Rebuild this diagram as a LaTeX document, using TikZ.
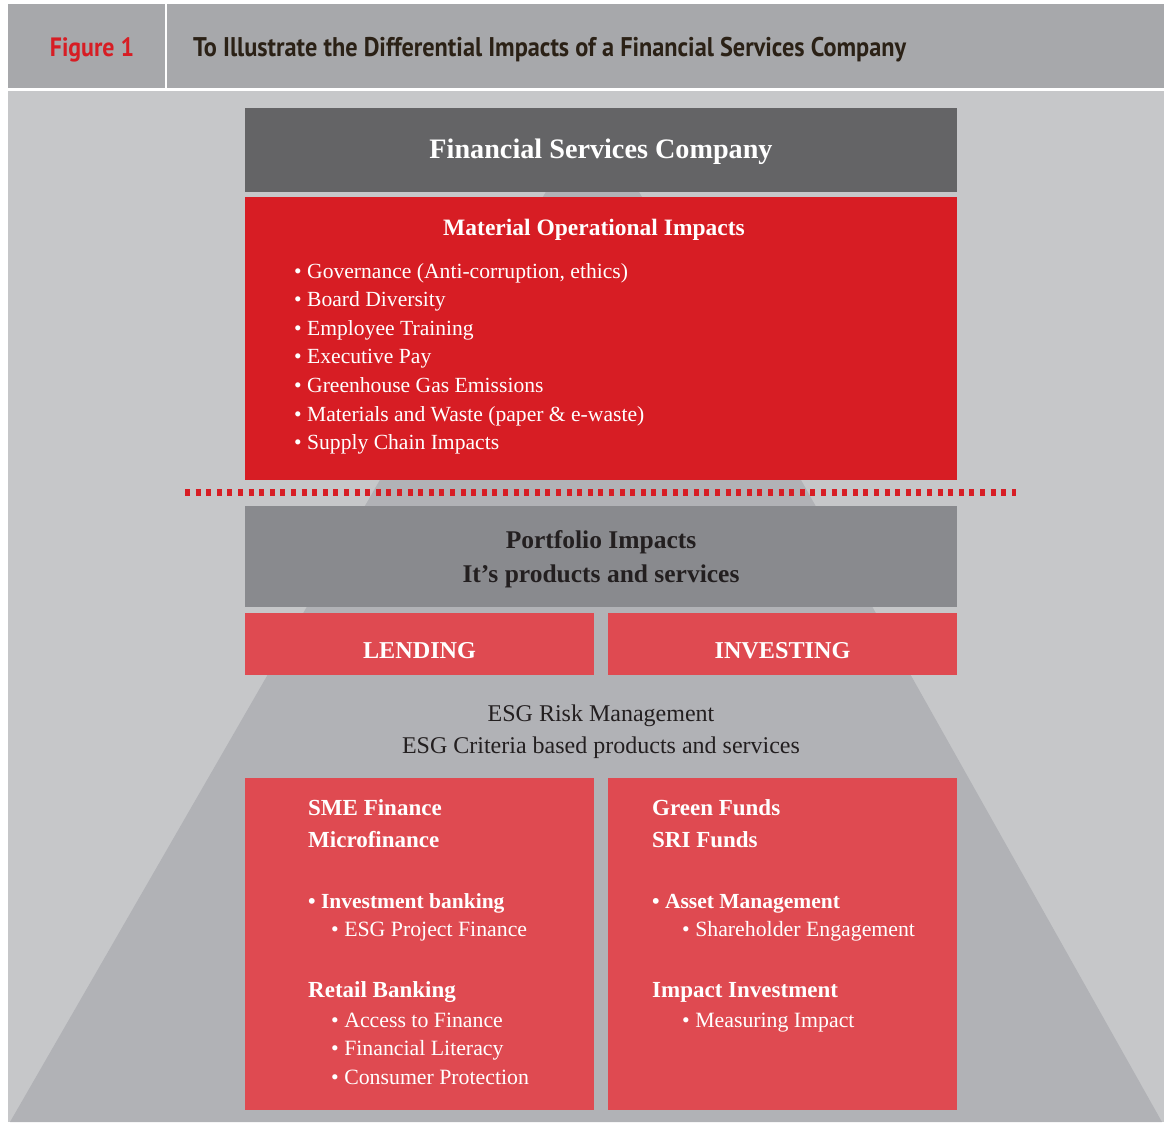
\documentclass[tikz,border=0pt]{standalone}
\usepackage{fontspec}
\setmainfont{Liberation Serif}
\newfontfamily\headfont[FakeStretch=0.9]{PT Sans}
\usetikzlibrary{positioning}

\definecolor{hdgray}{HTML}{A7A8AB}
\definecolor{bggray}{HTML}{C6C7C9}
\definecolor{pyrgray}{HTML}{B1B2B6}
\definecolor{cogray}{HTML}{646466}
\definecolor{pfgray}{HTML}{898A8E}
\definecolor{opred}{HTML}{D71D24}
\definecolor{pfred}{HTML}{DF4A51}
\definecolor{inkdark}{HTML}{231F20}
\definecolor{hdink}{HTML}{2B2116}

\tikzset{
  box/.style={rectangle, inner sep=0pt, outer sep=0pt, anchor=north west},
  lbl/.style={anchor=base west, inner sep=0pt},
  ctr/.style={anchor=base, inner sep=0pt},
  wbold/.style={lbl, text=white, font=\fontsize{23}{27}\selectfont\bfseries},
  wsub/.style={lbl, text=white, font=\fontsize{21.5}{25}\selectfont\bfseries},
  wreg/.style={lbl, text=white, font=\fontsize{21.8}{25}\selectfont},
}

\begin{document}
\begin{tikzpicture}[x=1pt, y=-1pt]
  \useasboundingbox (0,0) rectangle (1164,1122);
  \fill[white] (0,0) rectangle (1164,1122);

  % header band
  \node[box, fill=hdgray, minimum width=1156pt, minimum height=85pt] (hdbar) at (8,4) {};
  \fill[bggray] (8,91) rectangle (1164,1122);
  \draw[white, line width=2pt] (hdbar.south west) -- (hdbar.south east);
  \draw[white, line width=2pt] (166,4) -- (166,89);
  \node[ctr, text=opred, font=\headfont\fontsize{26.5}{30}\selectfont\bfseries] (hdnum) at (92,56) {Figure 1};
  \node[lbl, text=hdink, font=\headfont\fontsize{27}{30}\selectfont\bfseries] (hdtitle) at (193,56)
    {To Illustrate the Differential Impacts of a Financial Services Company};

  % pyramid behind the boxes
  \fill[pyrgray] (10,1122) -- (593,110) -- (1162,1122) -- cycle;

  % company and operational impacts
  \node[box, fill=cogray, minimum width=712pt, minimum height=84pt] (company) at (245,108) {};
  \node[ctr, text=white, font=\fontsize{28.2}{32}\selectfont\bfseries] (cotxt) at (601,158) {Financial Services Company};

  \node[box, fill=opred, minimum width=712pt, minimum height=283pt] (opbox) at (245,197) {};
  \node[ctr, text=white, font=\fontsize{23.5}{27}\selectfont\bfseries] (optitle) at (594,235) {Material Operational Impacts};
  \foreach \t [count=\i from 0] in {{Governance (Anti-corruption, ethics)}, Board Diversity, Employee Training,
      Executive Pay, Greenhouse Gas Emissions, {Materials and Waste (paper \& e-waste)}, Supply Chain Impacts}
    \node[lbl, text=white, font=\fontsize{21.6}{25}\selectfont] (op\i) at (294,278+28.6*\i) {\textbullet\ \t};

  % dashed divider
  \coordinate (dashL) at (185,492);
  \coordinate (dashR) at (1016,492);
  \draw[opred, line width=7pt, dash pattern=on 5pt off 5.6pt] (dashL) -- (dashR);

  % portfolio impacts
  \node[box, fill=pfgray, minimum width=712pt, minimum height=101pt] (pfbox) at (245,506) {};
  \node[ctr, text=inkdark, font=\fontsize{25.5}{29}\selectfont\bfseries] (pftxt1) at (601,548) {Portfolio Impacts};
  \node[ctr, text=inkdark, font=\fontsize{25.5}{29}\selectfont\bfseries] (pftxt2) at (601,582) {It’s products and services};

  \node[box, fill=pfred, minimum width=349pt, minimum height=62pt] (lendbox) at (245,613) {};
  \node[box, fill=pfred, minimum width=349pt, minimum height=62pt] (investbox) at (608,613) {};
  \node[ctr, text=white, font=\fontsize{24.2}{28}\selectfont\bfseries] (lendtxt) at (lendbox.center |- 0,658) {LENDING};
  \node[ctr, text=white, font=\fontsize{24.2}{28}\selectfont\bfseries] (investtxt) at (investbox.center |- 0,658) {INVESTING};

  \node[ctr, text=inkdark, font=\fontsize{24}{28}\selectfont] (esg1) at (601,721) {ESG Risk Management};
  \node[ctr, text=inkdark, font=\fontsize{24}{28}\selectfont] (esg2) at (601,753) {ESG Criteria based products and services};

  % lending products
  \node[box, fill=pfred, minimum width=349pt, minimum height=332pt] (lendlow) at (245,778) {};
  \node[wbold] (sme) at (308,815) {SME Finance};
  \node[wbold] (micro) at (308,847) {Microfinance};
  \node[wsub] (invbank) at (308,908) {\textbullet\ Investment banking};
  \node[wreg] (esgpf) at (331,936) {\textbullet\ ESG Project Finance};
  \node[wbold] (retail) at (308,997) {Retail Banking};
  \node[wreg] (access) at (331,1027) {\textbullet\ Access to Finance};
  \node[wreg] (literacy) at (331,1055) {\textbullet\ Financial Literacy};
  \node[wreg] (consumer) at (331,1084) {\textbullet\ Consumer Protection};

  % investing products
  \node[box, fill=pfred, minimum width=349pt, minimum height=332pt] (investlow) at (608,778) {};
  \node[wbold] (green) at (652,815) {Green Funds};
  \node[wbold] (sri) at (652,847) {SRI Funds};
  \node[wsub] (asset) at (652,908) {\textbullet\ Asset Management};
  \node[wreg] (holder) at (682,936) {\textbullet\ Shareholder Engagement};
  \node[wbold] (impact) at (652,997) {Impact Investment};
  \node[wreg] (measure) at (682,1027) {\textbullet\ Measuring Impact};
\end{tikzpicture}
\end{document}
